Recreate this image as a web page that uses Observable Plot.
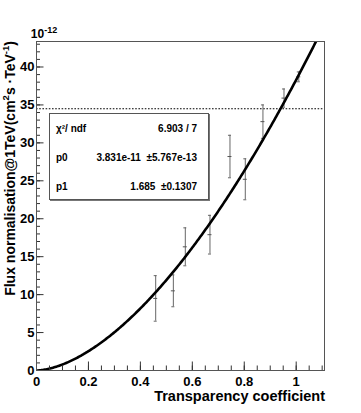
<!DOCTYPE html>
<html>
<head>
<meta charset="utf-8">
<script src="https://cdn.jsdelivr.net/npm/d3@7"></script>
<script src="https://cdn.jsdelivr.net/npm/@observablehq/plot@0.6"></script>
<style>
  html, body { margin: 0; padding: 0; background: #fff; }
  #wrap { position: relative; width: 361px; height: 413px; font-family: "Liberation Sans", Arial, Helvetica, sans-serif; }
  #stats { position: absolute; left: 49px; top: 113px; width: 158px; height: 85px; border: 1px solid #555;
           box-shadow: 1px 1px 0 #777; background: #fff; font-weight: bold; font-size: 10px; color: #000; }
  #stats .row { position: absolute; left: 6px; right: 11px; height: 12px; line-height: 12px; }
  #stats .lab { position: absolute; left: 0; top: 0; }
  #stats .val { position: absolute; right: 0; top: 0; white-space: pre; }
</style>
</head>
<body>
<div id="wrap"></div>
<script>
// Data (flux in units of 1e-12 cm^-2 s^-1 TeV^-1)
const transparency = [0.459, 0.527, 0.573, 0.668, 0.745, 0.804, 0.872, 0.953, 1.010];
const flux         = [9.5, 10.5, 16.3, 17.9, 28.2, 25.2, 32.8, 35.9, 38.7];
const fluxErr      = [3.0, 2.1, 2.5, 2.55, 2.8, 2.7, 2.2, 1.2, 0.65];
const fitP0 = 38.31;    // 3.831e-11 in units of 1e-12
const fitP1 = 1.685;
const refLevel = 34.5;
const xMajorTicks = [0, 0.2, 0.4, 0.6, 0.8, 1.0];
const xTickLabels = ["0", "0.2", "0.4", "0.6", "0.8", "1"];
const xMinorTicks = d3.range(0, 23).map(i => i * 0.05);
const yMajorTicks = [0, 5, 10, 15, 20, 25, 30, 35, 40];
const yTickLabels = ["0", "5", "10", "15", "20", "25", "30", "35", "40"];
const yMinorTicks = d3.range(0, 44);
const statLabels = ["\u03c7\u00b2/ ndf", "p0", "p1"];
const statValues = ["6.903 / 7", "3.831e-11  \u00b15.767e-13", "1.685  \u00b10.1307"];

const points = transparency.map((x, i) => ({x, y: flux[i], e: fluxErr[i]}));
const curveX = d3.range(0, 1.1101, 0.004);
const curve = curveX.map(x => ({x, y: fitP0 * Math.pow(x, fitP1)}));

const W = 361, H = 413, ML = 36, MR = 37, MT = 41, MB = 43;
const PW = W - ML - MR, PH = H - MT - MB;
const font = '"Liberation Sans", Arial, Helvetica, sans-serif';

const chart = Plot.plot({
  width: W, height: H,
  marginLeft: ML, marginRight: MR, marginTop: MT, marginBottom: MB,
  x: {domain: [0, 1.109], axis: null},
  y: {domain: [0, 43.36], axis: null},
  style: {fontFamily: font, background: "#fff", color: "#000"},
  marks: [
    Plot.ruleY([refLevel], {stroke: "#000", strokeWidth: 1.1, strokeDasharray: "1.6,1.6"}),
    Plot.ruleX(points, {x: "x", y1: d => d.y - d.e, y2: d => d.y + d.e, stroke: "#666", strokeWidth: 1}),
    Plot.ruleY(points, {y: d => d.y - d.e, x1: "x", x2: "x", insetLeft: -1.5, insetRight: -1.5, stroke: "#666", strokeWidth: 1}),
    Plot.ruleY(points, {y: d => d.y + d.e, x1: "x", x2: "x", insetLeft: -1.5, insetRight: -1.5, stroke: "#666", strokeWidth: 1}),
    Plot.ruleY(points, {y: "y", x1: "x", x2: "x", insetLeft: -2, insetRight: -2, stroke: "#555", strokeWidth: 1}),
    Plot.line(curve, {x: "x", y: "y", stroke: "#000", strokeWidth: 2.6, clip: true}),
    Plot.tickY(yMajorTicks, {y: d => d, insetRight: PW - 7.5, stroke: "#333", strokeWidth: 1}),
    Plot.tickY(yMinorTicks, {y: d => d, insetRight: PW - 4, stroke: "#333", strokeWidth: 1}),
    Plot.tickX(xMajorTicks, {x: d => d, insetTop: PH - 8.5, stroke: "#333", strokeWidth: 1}),
    Plot.tickX(xMinorTicks, {x: d => d, insetTop: PH - 4.5, stroke: "#333", strokeWidth: 1}),
    Plot.axisX({ticks: xMajorTicks, tickSize: 0, tickPadding: 6, tickFormat: (d, i) => xTickLabels[i], fontSize: 13, fontWeight: "bold", label: null}),
    Plot.axisY({ticks: yMajorTicks, tickSize: 0, tickPadding: 2, tickFormat: (d, i) => yTickLabels[i], fontSize: 13, fontWeight: "bold", label: null}),
    Plot.frame({stroke: "#555", strokeWidth: 1})
  ]
});

const svg = d3.select(chart);
svg.append("text").attr("x", 325).attr("y", 401).attr("text-anchor", "end")
  .attr("font-family", font).attr("font-weight", "bold").attr("font-size", 14.5).attr("fill", "#000")
  .text("Transparency coefficient");
const yt = svg.append("text").attr("transform", "translate(15,41) rotate(-90)").attr("text-anchor", "end")
  .attr("font-family", font).attr("font-weight", "bold").attr("font-size", 14).attr("fill", "#000");
yt.append("tspan").text("Flux normalisation@1TeV(cm");
yt.append("tspan").attr("font-size", 9.5).attr("dy", -6).text("2");
yt.append("tspan").attr("dy", 6).text("s \u00b7TeV");
yt.append("tspan").attr("font-size", 9.5).attr("dy", -6).text("-1");
yt.append("tspan").attr("dy", 6).text(")");
const ex = svg.append("text").attr("x", 44).attr("y", 38)
  .attr("font-family", font).attr("font-weight", "bold").attr("font-size", 12).attr("fill", "#000");
ex.append("tspan").text("10");
ex.append("tspan").attr("font-size", 9).attr("dy", -5).text("-12");

const wrap = document.getElementById("wrap");
wrap.appendChild(chart);

const box = document.createElement("div");
box.id = "stats";
const rowTops = [9, 38, 67];
statLabels.forEach((lab, i) => {
  const r = document.createElement("div");
  r.className = "row";
  r.style.top = rowTops[i] + "px";
  const a = document.createElement("span"); a.className = "lab"; a.textContent = lab;
  const b = document.createElement("span"); b.className = "val"; b.textContent = statValues[i];
  r.appendChild(a); r.appendChild(b);
  box.appendChild(r);
});
wrap.appendChild(box);
</script>
</body>
</html>
